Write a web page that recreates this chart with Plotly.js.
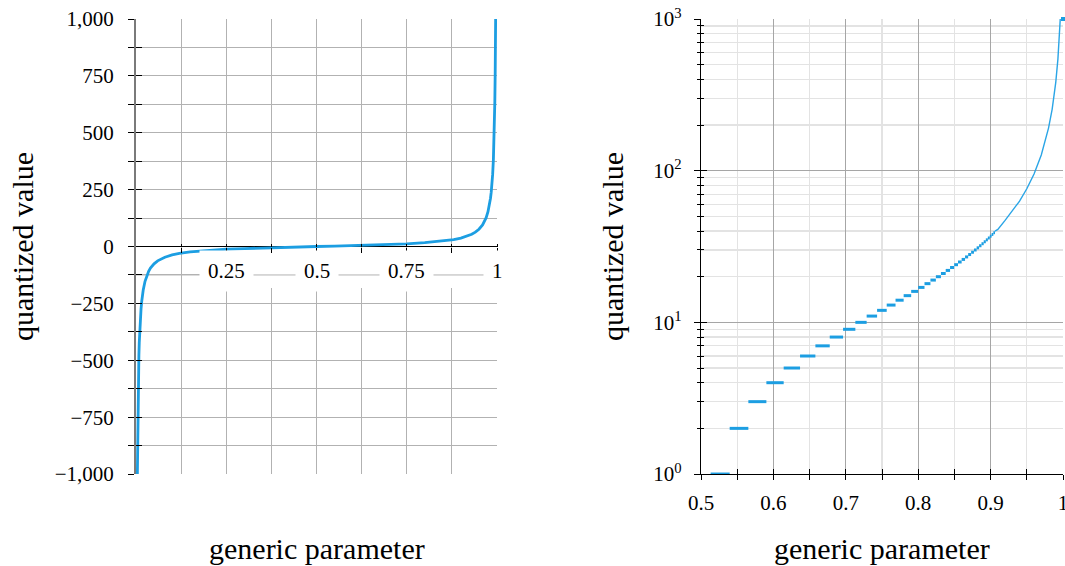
<!DOCTYPE html>
<html>
<head>
<meta charset="utf-8">
<script src="https://cdn.plot.ly/plotly-3.0.1.min.js"></script>
<style>html,body{margin:0;padding:0;background:#fff;}#chart{width:1065px;height:566px;}</style>
</head>
<body>
<div id="chart"></div>
<script>
// ---- Left panel: quantized value vs generic parameter (linear) ----
const leftX = [0.0038,0.004,0.0045,0.005,0.006,0.007,0.008,0.009,0.01,0.012,0.014,0.016,0.018,0.02,0.025,0.03,0.035,0.04,0.05,0.06,0.07,0.08,0.1,0.12,0.15,0.2,0.25,0.3,0.35,0.4,0.45,0.5,0.55,0.6,0.65,0.7,0.75,0.8,0.85,0.88,0.9,0.92,0.93,0.94,0.95,0.96,0.965,0.97,0.975,0.98,0.982,0.984,0.986,0.988,0.99,0.991,0.992,0.993,0.994,0.995,0.9955,0.996,0.9962];
const leftY = [-1000,-955,-849,-764,-637,-546,-477,-424,-382,-318,-273,-239,-212,-191,-153,-127,-109,-95,-76,-63,-54,-47,-37,-30,-24,-17,-12,-9,-6,-4,-2,0,2,4,6,9,12,17,24,30,37,47,54,63,76,95,109,127,153,191,212,239,273,318,382,424,477,546,637,764,849,955,1000];
const leftYTicks = [-1000,-750,-500,-250,0,250,500,750,1000];
const leftYTickText = ['\u22121,000','\u2212750','\u2212500','\u2212250','0','250','500','750','1,000'];
const leftYMinor = [-875,-625,-375,-125,125,375,625,875];
const leftXGrid = [0.125,0.25,0.375,0.5,0.625,0.75,0.875,1];
const leftXLabels = [0.25,0.5,0.75,1];
const leftXLabelText = ['0.25','0.5','0.75','1'];

// ---- Right panel: log scale, quantized steps ----
const stepBounds = [0.5133,0.5396,0.5654,0.5903,0.6142,0.6368,0.6580,0.6778,0.6962,0.7132,0.7288,0.7432,0.7565,0.7687,0.7799,0.7903,0.7999,0.8087,0.8169,0.8244,0.8314,0.8380,0.8440,0.8497,0.8550,0.8600,0.8647,0.8690,0.8731,0.8770,0.8807,0.8841,0.8874,0.8905,0.8934,0.8962,0.8989,0.9014,0.9038,0.9061];
const stepLevels = [1,2,3,4,5,6,7,8,9,10,11,12,13,14,15,16,17,18,19,20,21,22,23,24,25,26,27,28,29,30,31,32,33,34,35,36,37,38,39];
const tailX = [0.9061,0.91,0.92,0.93,0.94,0.95,0.96,0.97,0.975,0.98,0.985,0.99,0.993,0.995,0.996,0.9962];
const tailY = [40,41,47,54,63,76,95,127,153,191,254,382,546,764,955,1000];
const endX = [1];
const endY = [1000];
const rightXTicks = [0.5,0.6,0.7,0.8,0.9,1];
const rightXTickText = ['0.5','0.6','0.7','0.8','0.9','1'];
const rightXMinor = [0.55,0.65,0.75,0.85,0.95];
const rightYTicks = [1,10,100,1000];
const rightYTickText = ['10<sup>0</sup>','10<sup>1</sup>','10<sup>2</sup>','10<sup>3</sup>'];
const rightYMinor = [2,3,4,5,6,7,8,9,20,30,40,50,60,70,80,90,200,300,400,500,600,700,800,900];

const BLUE = '#1c9ee2';
const FONT = 'Liberation Serif, Times New Roman, serif';
const GRID = '#b2b2b2';
const GRID_R_MAJ = '#a6a6a6';
const GRID_R_MIN = '#e3e3e3';

// build step segments
const stepX = [], stepY = [];
for (let i = 0; i < stepLevels.length; i++) {
  stepX.push(stepBounds[i], stepBounds[i+1], null);
  stepY.push(stepLevels[i], stepLevels[i], null);
}

const yDom = [0.1625, 0.9664];
const zeroPos = (yDom[0] + yDom[1]) / 2;

const traces = [
  {type:'scatter', mode:'lines', x:leftX, y:leftY, xaxis:'x', yaxis:'y',
   line:{color:BLUE, width:2.8}, hoverinfo:'skip'},
  {type:'scatter', mode:'lines', x:stepX, y:stepY, xaxis:'x2', yaxis:'y2',
   line:{color:BLUE, width:3}, connectgaps:false, hoverinfo:'skip'},
  {type:'scatter', mode:'lines', x:tailX, y:tailY, xaxis:'x2', yaxis:'y2',
   line:{color:'#2aa5e6', width:1.4}, hoverinfo:'skip'},
  {type:'scatter', mode:'markers', x:endX, y:endY, xaxis:'x2', yaxis:'y2',
   marker:{color:BLUE, size:4, symbol:'square'}, cliponaxis:false, hoverinfo:'skip'},
  // empty traces to carry overlay tick axes
  {type:'scatter', mode:'lines', x:[], y:[], xaxis:'x3', yaxis:'y', hoverinfo:'skip'},
  {type:'scatter', mode:'lines', x:[], y:[], xaxis:'x4', yaxis:'y', hoverinfo:'skip'},
  {type:'scatter', mode:'lines', x:[], y:[], xaxis:'x', yaxis:'y3', hoverinfo:'skip'},
  {type:'scatter', mode:'lines', x:[], y:[], xaxis:'x5', yaxis:'y2', hoverinfo:'skip'},
  {type:'scatter', mode:'lines', x:[], y:[], xaxis:'x2', yaxis:'y4', hoverinfo:'skip'}
];

const tickFont = {family:FONT, size:21, color:'#000'};

const annotations = [];
for (let i = 0; i < leftXLabels.length; i++) {
  annotations.push({xref:'x', yref:'y', x:leftXLabels[i], y:0, yshift:-24,
    text:leftXLabelText[i], showarrow:false, font:tickFont,
    bgcolor:'#ffffff', borderpad:8, xanchor:'center', yanchor:'middle'});
}
annotations.push(
  {xref:'paper', yref:'paper', x:22/1065, y:1-247/566, text:'quantized value', textangle:-90,
   showarrow:false, font:{family:FONT, size:30, color:'#000'}, xanchor:'center', yanchor:'middle'},
  {xref:'paper', yref:'paper', x:612/1065, y:1-247/566, text:'quantized value', textangle:-90,
   showarrow:false, font:{family:FONT, size:30, color:'#000'}, xanchor:'center', yanchor:'middle'},
  {xref:'paper', yref:'paper', x:317/1065, y:1-548/566, text:'generic parameter',
   showarrow:false, font:{family:FONT, size:30, color:'#000'}, xanchor:'center', yanchor:'middle'},
  {xref:'paper', yref:'paper', x:882/1065, y:1-548/566, text:'generic parameter',
   showarrow:false, font:{family:FONT, size:30, color:'#000'}, xanchor:'center', yanchor:'middle'}
);

const layout = {
  width:1065, height:566,
  margin:{l:0, r:0, t:0, b:0, pad:0},
  paper_bgcolor:'#fff', plot_bgcolor:'#fff',
  showlegend:false,
  font:{family:FONT, size:21, color:'#000'},
  xaxis:{domain:[136/1065, 497/1065], range:[0,1], anchor:'y',
    tickmode:'array', tickvals:leftXGrid, showticklabels:false, ticks:'',
    showgrid:true, gridcolor:GRID, gridwidth:1, zeroline:false, showline:false, fixedrange:true},
  yaxis:{domain:yDom, range:[-1000,1000], anchor:'x',
    tickmode:'array', tickvals:leftYTicks, ticktext:leftYTickText,
    ticks:'outside', ticklen:6, tickwidth:1, tickcolor:'#000', tickfont:tickFont, ticklabelstandoff:10,
    showline:true, linecolor:'#7a7a7a', linewidth:2,
    showgrid:true, gridcolor:GRID, gridwidth:1,
    zeroline:true, zerolinecolor:'#000', zerolinewidth:1,
    minor:{tickmode:'array', tickvals:leftYMinor, ticks:'outside', ticklen:6, tickwidth:1, tickcolor:'#000',
      showgrid:true, gridcolor:GRID, gridwidth:1},
    fixedrange:true},
  xaxis3:{overlaying:'x', anchor:'free', position:zeroPos, side:'bottom', range:[0,1],
    tickmode:'array', tickvals:leftXGrid, ticks:'outside', ticklen:5, tickwidth:1, tickcolor:'#000',
    showticklabels:false, showgrid:false, zeroline:false, showline:false, fixedrange:true},
  xaxis4:{overlaying:'x', anchor:'free', position:zeroPos, side:'top', range:[0,1],
    tickmode:'array', tickvals:leftXGrid, ticks:'outside', ticklen:3, tickwidth:1, tickcolor:'#000',
    showticklabels:false, showgrid:false, zeroline:false, showline:false, fixedrange:true},
  yaxis3:{overlaying:'y', anchor:'x', side:'left', range:[-1000,1000],
    tickmode:'array', tickvals:leftYTicks.concat(leftYMinor), ticks:'inside', ticklen:6, tickwidth:1, tickcolor:'#000',
    showticklabels:false, showgrid:false, zeroline:false, showline:false, fixedrange:true},

  xaxis2:{domain:[701/1065, 1063/1065], range:[0.5,1], anchor:'y2',
    tickmode:'array', tickvals:rightXTicks, ticktext:rightXTickText,
    ticks:'outside', ticklen:5, tickwidth:1, tickcolor:'#000', tickfont:tickFont, ticklabelstandoff:4,
    ticklabeloverflow:'allow',
    showline:true, linecolor:'#000', linewidth:1.3,
    showgrid:true, gridcolor:GRID_R_MAJ, gridwidth:1, zeroline:false,
    minor:{tickmode:'array', tickvals:rightXMinor, ticks:'outside', ticklen:5, tickwidth:1, tickcolor:'#000',
      showgrid:true, gridcolor:GRID_R_MIN, gridwidth:1.3},
    fixedrange:true},
  yaxis2:{domain:yDom, type:'log', range:[0,3], anchor:'x2',
    tickmode:'array', tickvals:rightYTicks, ticktext:rightYTickText,
    ticks:'outside', ticklen:6, tickwidth:1, tickcolor:'#000', tickfont:tickFont, ticklabelstandoff:8,
    showline:true, linecolor:'#000', linewidth:1.3,
    showgrid:true, gridcolor:GRID_R_MAJ, gridwidth:1, zeroline:false,
    minor:{tickmode:'array', tickvals:rightYMinor, ticks:'outside', ticklen:3, tickwidth:1, tickcolor:'#000',
      showgrid:true, gridcolor:GRID_R_MIN, gridwidth:1.3},
    fixedrange:true},
  xaxis5:{overlaying:'x2', anchor:'y2', side:'bottom', range:[0.5,1],
    tickmode:'array', tickvals:rightXTicks.concat(rightXMinor), ticks:'inside', ticklen:5, tickwidth:1, tickcolor:'#000',
    showticklabels:false, showgrid:false, zeroline:false, showline:false, fixedrange:true},
  yaxis4:{overlaying:'y2', anchor:'x2', side:'left', type:'log', range:[0,3],
    tickmode:'array', tickvals:rightYTicks, ticks:'inside', ticklen:6, tickwidth:1, tickcolor:'#000',
    minor:{tickmode:'array', tickvals:rightYMinor, ticks:'inside', ticklen:3, tickwidth:1, tickcolor:'#000', showgrid:false},
    showticklabels:false, showgrid:false, zeroline:false, showline:false, fixedrange:true},

  shapes:[
    {type:'rect', layer:'between', xref:'x', yref:'y', x0:0.2, x1:1, y0:-182, y1:-16,
     fillcolor:'#ffffff', line:{width:0}},
    {type:'line', layer:'between', xref:'x', yref:'y', x0:0, x1:1, y0:-125, y1:-125,
     line:{color:GRID, width:1}}
  ],
  annotations:annotations
};

Plotly.newPlot('chart', traces, layout, {staticPlot:true, displayModeBar:false});
</script>
</body>
</html>
